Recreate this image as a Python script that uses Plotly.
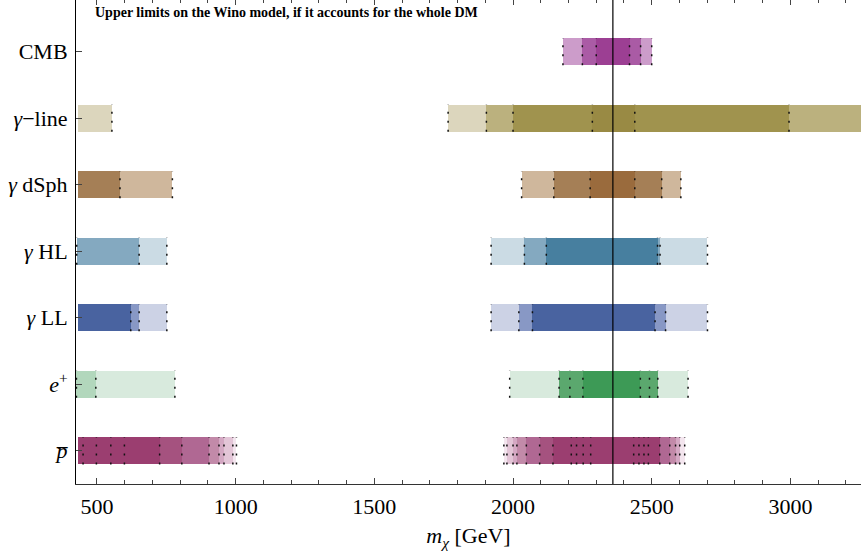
import plotly.graph_objects as go

# ---------------- data ----------------
categories = ["pbar", "e+", "gLL", "gHL", "gdSph", "gline", "CMB"]
tick_labels = ["<i>p\u0305</i>", "<i>e</i><sup>+</sup>", "<i>\u03b3</i> LL", "<i>\u03b3</i> HL",
               "<i>\u03b3</i> dSph", "<i>\u03b3</i>\u2212line", "CMB"]
x_tick_values = [500, 1000, 1500, 2000, 2500, 3000]

LOW = 430          # open lower edge of the low-mass exclusions (no boundary drawn)
wino_mass = 2360   # vertical reference line [GeV]

# excluded intervals (lo, hi, level) per category, in GeV
cmb = [(2180, 2500, 1), (2250, 2460, 2), (2300, 2420, 3)]
gamma_line = [(LOW, 554, 1), (1766, 3400, 1), (1904, 3400, 2), (2000, 2995, 3), (2286, 2439, 4)]
gamma_dsph = [(LOW, 772, 1), (LOW, 583, 2),
              (2031, 2605, 1), (2147, 2536, 2), (2278, 2439, 3)]
gamma_hl = [(427, 752, 1), (427, 652, 2),
            (1921, 2701, 1), (2041, 2530, 2), (2120, 2521, 3)]
gamma_ll = [(LOW, 752, 1), (LOW, 652, 2), (LOW, 622, 3),
            (1921, 2701, 1), (2021, 2550, 2), (2070, 2512, 3)]
positron = [(426, 781, 1), (426, 496, 2),
            (1988, 2631, 1), (2166, 2522, 3), (2205, 2492, 3), (2252, 2459, 4)]
pbar_left_hi = [1003, 990, 958, 940, 904, 806, 726, 599, 550, 498, 450]
pbar_right_lo = [1967, 1978, 2000, 2014, 2048, 2096, 2144, 2210, 2229, 2253, 2280]
pbar_right_hi = [2619, 2601, 2601, 2586, 2565, 2529, 2529, 2488, 2472, 2454, 2435]
pbar = ([(LOW, h, k + 1) for k, h in enumerate(pbar_left_hi)] +
        [(l, h, k + 1) for k, (l, h) in enumerate(zip(pbar_right_lo, pbar_right_hi))])

intervals = {"pbar": pbar, "e+": positron, "gLL": gamma_ll, "gHL": gamma_hl,
             "gdSph": gamma_dsph, "gline": gamma_line, "CMB": cmb}

# ---------------- style ----------------
level_colors = {
    "CMB": ["#cc9cca", "#aa5ba5", "#9c3f93"],
    "gline": ["#dcd6bd", "#bbb17e", "#a0934e", "#998a44"],
    "gdSph": ["#cfb79c", "#a57f56", "#9a6b3d"],
    "gHL": ["#cbdbe4", "#84a9c0", "#477f9f"],
    "gLL": ["#ccd2e5", "#8898c5", "#4963a0"],
    "e+": ["#d8eadd", "#b2d7bc", "#5ba86e", "#3d9a56"],
    "pbar": ["#f3e5ee", "#e3c5d7", "#d4a8c3", "#c28aa9", "#b06893", "#a5527f",
             "#9b3e70", "#9b3e70", "#9b3e70", "#9b3e70", "#9b3e70"],
}
XR = [424.5, 3254.5]
YR = [-0.5, 6.777]
BAR_W = 0.41
SERIF = "Liberation Serif"
FS = 22

fig = go.Figure()

for yi, cat in enumerate(categories):
    ivs = sorted(intervals[cat], key=lambda t: t[2])
    for lo, hi, lev in ivs:
        fig.add_trace(go.Bar(
            orientation="h", y=[yi], base=[lo], x=[hi - lo], width=BAR_W,
            marker=dict(color=level_colors[cat][lev - 1], line=dict(width=0)),
            showlegend=False, hoverinfo="skip"))

# dotted boundaries
for yi, cat in enumerate(categories):
    xs, ys = [], []
    edges = set()
    for lo, hi, lev in intervals[cat]:
        for e in (lo, hi):
            if e != LOW and XR[0] <= e <= XR[1]:
                edges.add(e)
    for e in sorted(edges):
        xs += [e, e, None]
        ys += [yi - BAR_W / 2, yi + BAR_W / 2, None]
    fig.add_trace(go.Scatter(
        x=xs, y=ys, mode="lines",
        line=dict(color="#111111", width=1.5, dash="2px,7px"),
        showlegend=False, hoverinfo="skip"))

# thermal wino mass line (on mirrored top axis so it is drawn)
fig.add_trace(go.Scatter(
    x=[wino_mass, wino_mass], y=YR, mode="lines", xaxis="x2",
    line=dict(color="black", width=1.2), showlegend=False, hoverinfo="skip"))

fig.update_layout(
    width=861, height=559,
    margin=dict(l=76, r=0, t=0, b=75, autoexpand=False),
    paper_bgcolor="white", plot_bgcolor="white",
    barmode="overlay", bargap=0,
    font=dict(family=SERIF, size=FS, color="black"),
    xaxis=dict(
        range=XR, showgrid=False, zeroline=False, automargin=False,
        showline=True, linecolor="#333", linewidth=1,
        ticks="inside", ticklen=6, tickcolor="#444", tickwidth=1,
        tickvals=x_tick_values,
        minor=dict(dtick=100, tick0=0, ticks="inside", ticklen=4, tickcolor="#444", showgrid=False),
        tickfont=dict(family=SERIF, size=FS), ticklabelstandoff=3,
        title=dict(text="<i>m</i><sub><i>\u03c7</i></sub> [GeV]", font=dict(family=SERIF, size=FS), standoff=9),
    ),
    xaxis2=dict(
        matches="x", overlaying="x", side="top", range=XR, automargin=False,
        showline=False, showgrid=False, zeroline=False, showticklabels=False,
        ticks="inside", ticklen=5, tickcolor="#444", tickwidth=1,
        tickvals=x_tick_values,
        minor=dict(dtick=100, tick0=0, ticks="inside", ticklen=3, tickcolor="#444", showgrid=False),
    ),
    yaxis=dict(
        range=YR, showgrid=False, zeroline=False, automargin=False,
        showline=True, linecolor="black", linewidth=1,
        ticks="inside", ticklen=6, tickcolor="#444",
        tickvals=list(range(len(categories))), ticktext=tick_labels,
        tickfont=dict(family=SERIF, size=FS), ticklabelstandoff=3,
    ),
    annotations=[dict(
        text="<b>Upper limits on the Wino model, if it accounts for the whole DM</b>",
        xref="paper", yref="paper", x=0.022, y=0.974, xanchor="left", yanchor="middle",
        showarrow=False, font=dict(family=SERIF, size=14, color="black"))],
)

fig.write_html("out.html", config={"displayModeBar": False},
               post_script="document.body.style.margin='0px';document.body.style.padding='0px';")
